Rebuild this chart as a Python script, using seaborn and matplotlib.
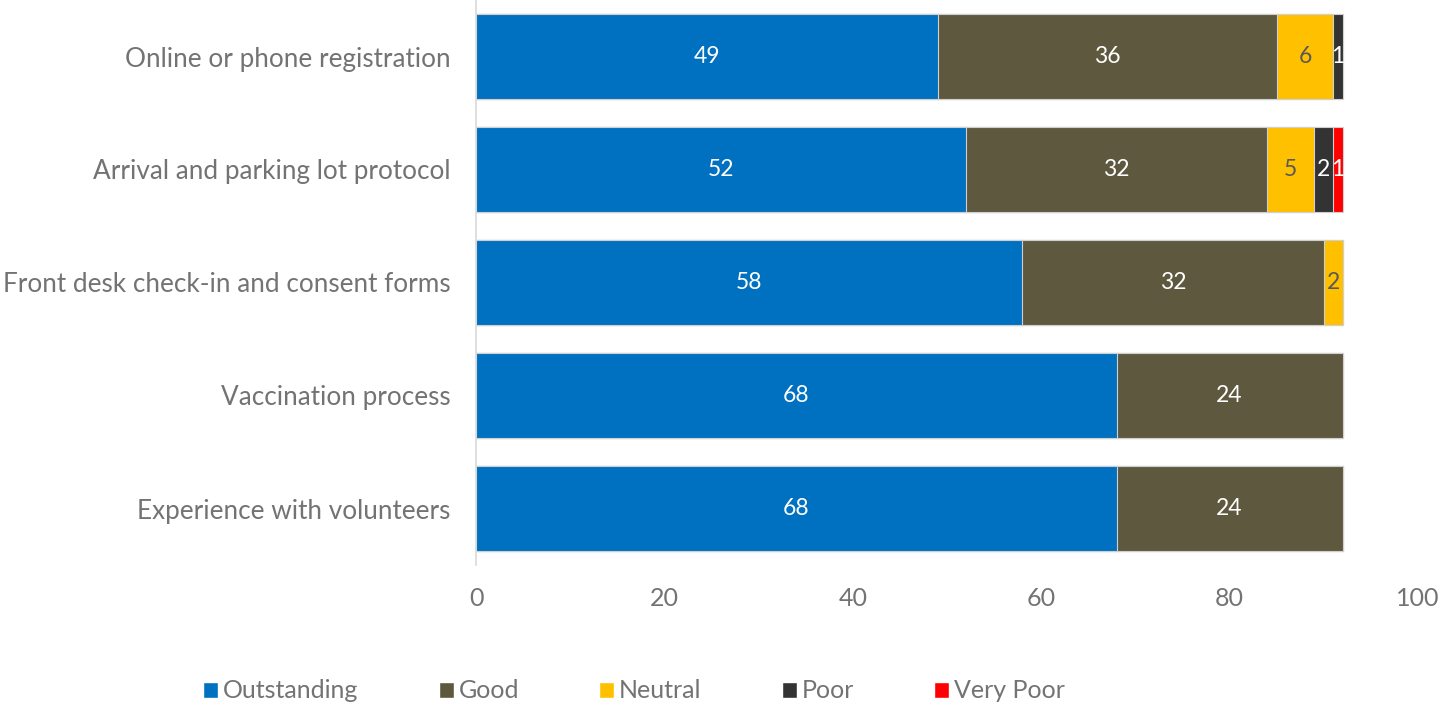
import pandas as pd
import numpy as np
import matplotlib
matplotlib.use("Agg")
import matplotlib.pyplot as plt
import seaborn as sns
from matplotlib.patches import Patch

categories = [
    "Online or phone registration",
    "Arrival and parking lot protocol",
    "Front desk check-in and consent forms",
    "Vaccination process",
    "Experience with volunteers",
]
ratings = ["Outstanding", "Good", "Neutral", "Poor", "Very Poor"]
outstanding = [49, 52, 58, 68, 68]
good = [36, 32, 32, 24, 24]
neutral = [6, 5, 2, 0, 0]
poor = [1, 2, 0, 0, 0]
very_poor = [0, 1, 0, 0, 0]

colors = ["#0070C0", "#5E583E", "#FFC000", "#333333", "#FF0000"]
label_colors = ["white", "white", "#595959", "white", "white"]
text_grey = "#737373"

sns.set_style("white")
plt.rcParams['font.family'] = ['Lato', 'DejaVu Sans']

df = pd.DataFrame({"Category": categories, "Outstanding": outstanding, "Good": good,
                   "Neutral": neutral, "Poor": poor, "Very Poor": very_poor})
cum = df[ratings].cumsum(axis=1)

fig = plt.figure(figsize=(14.39, 7.06), dpi=100)
ax = fig.add_axes([476 / 1439, 1 - 565 / 706, (1418 - 476) / 1439, 565 / 706])

# draw cumulative totals from the largest down so layers look stacked
for r, c in zip(reversed(ratings), reversed(colors)):
    sns.barplot(x=cum[r], y=df["Category"], color=c, saturation=1, orient="h", width=0.76,
                edgecolor="#d0d0d0", linewidth=0.8, ax=ax, errorbar=None)

for i in range(len(categories)):
    start = 0
    for r, lc in zip(ratings, label_colors):
        v = df.loc[i, r]
        if v > 0:
            ax.text(start + v / 2, i, str(v), ha="center", va="center",
                    color=lc, fontsize=16.5)
        start += v

ax.set_xlim(0, 100)
ax.set_ylim(4.5, -0.5)
ax.set_xticks(range(0, 101, 20))
ax.set_xlabel("")
ax.set_ylabel("")
ax.tick_params(axis="x", length=0, labelsize=18, colors=text_grey, pad=16)
ax.tick_params(axis="y", length=0, labelsize=18.8, colors=text_grey, pad=18.5)
for s in ["top", "right", "bottom"]:
    ax.spines[s].set_visible(False)
ax.spines["left"].set_color("#d9d9d9")
ax.spines["left"].set_linewidth(1.2)

handles = [Patch(facecolor=c, label=r) for r, c in zip(ratings, colors)]
leg = fig.legend(handles=handles, loc="center", bbox_to_anchor=(634 / 1439, 1 - 691 / 706),
                 ncol=5, frameon=False, fontsize=18, handlelength=0.6, handleheight=0.6,
                 handletextpad=0.2, columnspacing=3.2)
for t in leg.get_texts():
    t.set_color(text_grey)

fig.savefig("out.png", dpi=100)
